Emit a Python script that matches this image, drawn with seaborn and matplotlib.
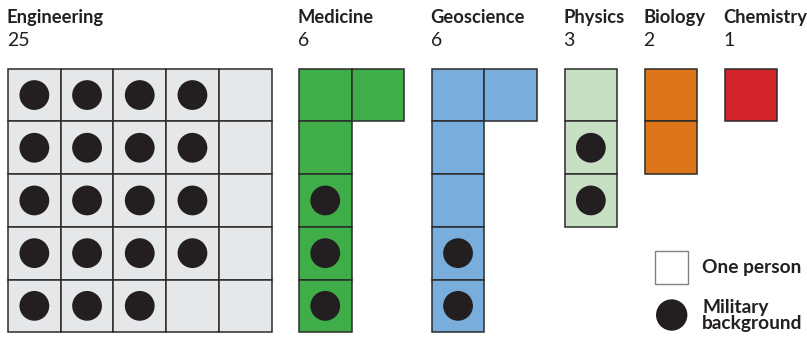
import matplotlib
matplotlib.use("Agg")
import matplotlib.pyplot as plt
import seaborn as sns
import pandas as pd
from matplotlib.patches import Rectangle

# ---- data ----
categories = ["Engineering", "Medicine", "Geoscience", "Physics", "Biology", "Chemistry"]
counts = [25, 6, 6, 3, 2, 1]
# indices (column-major, 5 rows per column) of people with military background
military_cells = [list(range(19)), [2, 3, 4], [3, 4], [1, 2], [], []]
colors = ["#e6e7e8", "#3fae49", "#79addc", "#c7e0c3", "#dd761b", "#d2232a"]
legend_labels = ["One person", "Military\nbackground"]

sns.set_theme(style="white")
plt.rcParams["font.family"] = ["Lato", "DejaVu Sans"]

TXT = "#231f20"
W, H = 807, 339
fig = plt.figure(figsize=(W / 100, H / 100), dpi=100)
ax = fig.add_axes([0, 0, 1, 1])

CELL = 52.7
GAP = 27.4
NROWS = 5
X0 = 8
Y0 = 68.7

dots = []
x = X0
for cat, n, mil, col in zip(categories, counts, military_cells, colors):
    ncols = -(-n // NROWS)
    for i in range(n):
        c, r = divmod(i, NROWS)
        ax.add_patch(Rectangle((x + c * CELL, Y0 + r * CELL), CELL, CELL,
                               facecolor=col, edgecolor="#2b2b2b", lw=1.1, zorder=1))
        if i in mil:
            dots.append({"x": x + (c + 0.5) * CELL, "y": Y0 + (r + 0.5) * CELL})
    ax.text(x - 1, 22.7, cat, fontsize=13.2, fontweight="bold", color=TXT, va="baseline")
    ax.text(x - 1, 45.7, str(n), fontsize=14, color=TXT, va="baseline")
    x += ncols * CELL + GAP

df = pd.DataFrame(dots)
sns.scatterplot(data=df, x="x", y="y", s=460, color=TXT, edgecolor="none",
                ax=ax, legend=False, zorder=3)

# legend
LX, LY = 655, 250.7
ax.add_patch(Rectangle((LX, LY), 33, 33, facecolor="white", edgecolor="#808080", lw=1.0))
ax.text(702, LY + 17, legend_labels[0], fontsize=13.8, fontweight="bold",
        color=TXT, va="center")
ax.scatter([LX + 16.7], [315], s=510, color=TXT, edgecolor="none", zorder=3)
ax.text(702, 315.5, legend_labels[1], fontsize=13.8, fontweight="bold",
        color=TXT, va="center", linespacing=0.88)

ax.set_xlim(0, W)
ax.set_ylim(H, 0)
ax.axis("off")
fig.savefig("out.png", dpi=100)
